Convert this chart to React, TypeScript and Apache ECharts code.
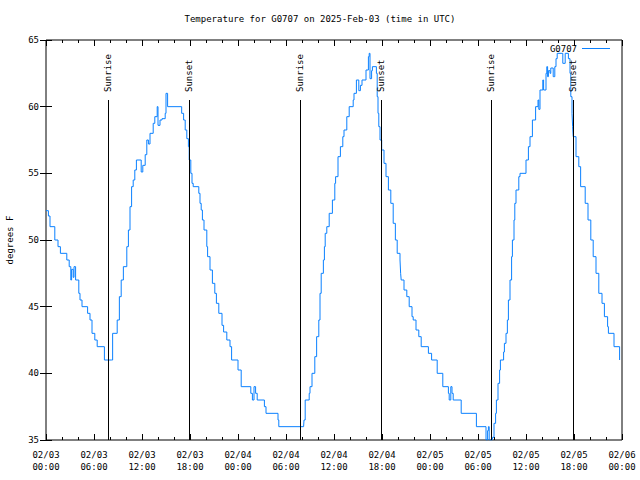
import React, { useEffect, useRef } from "react";
import * as echarts from "echarts";

const chartTitle = "Temperature for G0707 on 2025-Feb-03 (time in UTC)";
const seriesName = "G0707";
const yAxisName = "degrees F";
const dayLabels = ["02/03", "02/04", "02/05", "02/06"];

// hours since 2025-02-03 00:00 UTC
const hours = [
  0.0, 0.3, 0.5, 1.1, 1.5, 1.8, 2.6, 2.9, 3.1, 3.2, 3.4, 3.5, 3.7, 4.1, 4.25, 4.5, 5.2, 5.5, 5.75, 6.1, 6.4, 7.3, 8.2,
  8.33, 8.9, 9.17, 9.4, 9.67, 10.1, 10.3, 10.5, 10.7, 10.9, 11.1, 11.3, 11.9, 12.1, 12.4, 12.6, 12.8, 13.0, 13.4, 13.6,
  13.9, 14.0, 14.25, 14.5, 14.9, 15.0, 15.2, 16.96, 17.2, 17.4, 17.6, 17.8, 17.9, 18.1, 18.25, 18.4, 19.1, 19.25,
  19.4, 19.55, 19.75, 20.1, 20.2, 20.5, 20.8, 21.1, 21.3, 21.6, 22.0, 22.2, 22.6, 23.0, 23.2, 24.0, 24.4, 25.6, 25.8,
  26.0, 26.2, 26.4, 27.3, 27.5, 29.0, 29.1, 32.2,
  32.25, 32.4, 32.9, 33.0, 33.25, 33.6, 33.83, 34.1, 34.25, 34.4, 34.67, 34.8, 34.9, 35.1, 35.4, 35.8, 36.1, 36.2,
  36.5, 36.8, 37.1, 37.25, 37.6, 37.9, 38.4, 38.5, 38.8, 39.1, 39.3, 39.5, 40.0, 40.3, 40.4, 40.5, 40.7, 40.8, 41.3,
  41.4, 41.5, 41.6, 41.75, 41.96, 42.25, 42.5, 42.8, 43.1, 43.4, 43.67, 43.9,
  44.25, 44.33, 44.4, 44.75, 45.1, 45.4, 45.75, 45.9, 46.25, 46.6, 46.9, 47.8, 48.2, 48.9, 49.6, 50.3, 50.4, 50.6,
  50.75, 50.9, 51.9, 53.8, 55.0, 55.2, 55.3, 55.4, 55.8, 56.0, 56.2, 56.3, 56.5, 56.7, 56.8,
  57.2, 57.3, 57.5, 57.67, 57.8, 58.0, 58.2, 58.3, 58.5, 58.6, 58.75, 59.1, 59.25, 60.0, 60.3, 60.5, 60.8, 61.2,
  61.5, 61.6, 61.75, 62.1, 62.2, 62.5, 62.6, 62.7, 62.8, 63.0, 63.1, 63.4, 63.6, 63.75, 63.9, 64.6, 64.9, 65.3,
  65.5, 65.6, 65.75, 65.83, 65.9, 66.25, 66.6, 66.83, 67.4, 67.75, 68.1, 68.4, 68.75, 69.1, 69.5, 69.8, 70.2, 70.3,
  71.0, 71.7, 71.75,
];

const tempsF = [
  52.2, 51.8, 51, 50, 49.5, 49, 48.5, 48, 47, 47.8, 47.2, 48, 47, 46, 45.5, 45, 44.5, 44, 43, 42.5, 42, 41, 41,
  43, 44, 45.75, 47, 48, 49.5, 50.75, 52.5, 54, 54.5, 55.25, 56, 55.1, 55.6, 56.4, 57.5, 57.2, 58, 58.75, 59.25,
  60, 58.6, 59, 59.1, 59.5, 61, 60, 59.5, 59, 58.25, 57.6, 57, 56, 55, 54.25, 54, 53.5, 52.75,
  52.25, 51.5, 50.75, 49.5, 48.75, 47.75, 46.75, 46, 45.25, 44.5, 43.6, 43.1, 42.5, 42, 41, 40.25, 39, 38.5, 38,
  39, 38.5, 38, 37.5, 37, 36.5, 36, 36,
  36.5, 38, 38.5, 39, 40, 41.25, 42.75, 44, 46, 47.5, 48.5, 49.5, 50.5, 51, 52, 53, 54.25, 54.75,
  56.25, 57, 57.75, 58.25, 59.25, 60, 60.5, 61, 62, 61.2, 61.6, 62, 62.75, 63.75, 64, 62.1, 62.7, 63, 62.5,
  60.75, 59.5, 58.5, 57.5, 56.75, 55.75, 54.75, 53.75, 52.75, 51.25, 50, 49,
  48.5, 47.5, 47, 46.25, 45.75, 45, 44.25, 44, 43.25, 42.75, 42, 41.5, 41, 40, 39, 38.5, 38, 39,
  38.5, 38, 37, 36, 35, 35.7, 36, 35, 35.2, 36.25, 37, 38, 39.25, 40.25, 41,
  41.6, 42.25, 43, 44, 45.5, 47, 48.75, 50, 51.5, 52.75, 53.75, 54.75, 55, 56, 57, 57.75, 59, 60,
  60.5, 59.8, 61.25, 62, 61.25, 62.5, 63, 62.25, 62.7, 62.5, 62.9, 62.25, 63, 63.6, 64, 63.25, 64, 63.6,
  62.5, 60.75, 59.5, 58.5, 57.75, 56.25, 55.5, 54, 52.75, 51.5, 50, 48.75, 47.5, 46, 45.25, 44.25, 43.5, 43,
  42, 41, 41,
];

const sunriseHours = [7.78, 31.72, 55.65];
const sunsetHours = [17.92, 41.9, 65.9];

const FONT = "DejaVu Sans Mono";
const LINE_COLOR = "#0a80ff";

export default function App() {
  const ref = useRef<HTMLDivElement>(null);

  useEffect(() => {
    if (!ref.current) return;
    const chart = echarts.init(ref.current, null, { renderer: "svg" });

    const xFormatter = (v: number) => {
      const d = Math.floor(v / 24 + 1e-9);
      const hh = Math.round(v - d * 24);
      return `${dayLabels[d]}\n${String(hh).padStart(2, "0")}:00`;
    };

    const eventLines: any[] = [];
    const addEvent = (h: number, name: string) => {
      eventLines.push([
        { coord: [h, 35], lineStyle: { color: "#000", width: 1, type: "solid" }, label: { show: false } },
        { coord: [h, 60.5] },
      ]);
      eventLines.push([
        {
          coord: [h, 61.1],
          lineStyle: { color: "rgba(0,0,0,0)", width: 1, type: "solid" },
          label: {
            show: true,
            position: "insideStart",
            distance: 0,
            formatter: name,
            color: "#000",
            opacity: 1,
            fontFamily: FONT,
            fontSize: 9,
          },
        },
        { coord: [h, 65] },
      ]);
    };
    sunriseHours.forEach((h) => addEvent(h, "Sunrise"));
    sunsetHours.forEach((h) => addEvent(h, "Sunset"));

    const tickCommon = {
      axisLine: { show: false },
      axisTick: { show: true, inside: true, length: 6, lineStyle: { color: "#000" } },
      splitLine: { show: false },
    };

    chart.setOption({
      animation: false,
      backgroundColor: "#fff",
      title: {
        text: chartTitle,
        left: "center",
        top: 14,
        padding: 0,
        textStyle: { fontFamily: FONT, fontSize: 9, fontWeight: "normal", color: "#000" },
      },
      legend: {
        data: [{ name: seriesName, icon: "rect" }],
        right: 30,
        top: 44,
        padding: 0,
        align: "right",
        itemWidth: 28,
        itemHeight: 1,
        itemStyle: { color: LINE_COLOR },
        textStyle: { fontFamily: FONT, fontSize: 9, color: "#000" },
      },
      grid: {
        left: 46,
        right: 18,
        top: 40,
        bottom: 40,
        show: true,
        borderColor: "#000",
        borderWidth: 1,
        containLabel: false,
        outerBoundsMode: "none",
      },
      xAxis: [
        {
          type: "value",
          min: 0,
          max: 72,
          interval: 6,
          ...tickCommon,
          minorTick: { show: true, splitNumber: 3, length: 3, lineStyle: { color: "#000" } },
          axisLabel: {
            formatter: xFormatter,
            fontFamily: FONT,
            fontSize: 9,
            color: "#000",
            lineHeight: 12,
            margin: 9,
          },
        },
        {
          type: "value",
          position: "top",
          min: 0,
          max: 72,
          interval: 6,
          ...tickCommon,
          minorTick: { show: true, splitNumber: 3, length: 3, lineStyle: { color: "#000" } },
          axisLabel: { show: false },
        },
      ],
      yAxis: [
        {
          type: "value",
          min: 35,
          max: 65,
          interval: 5,
          ...tickCommon,
          name: yAxisName,
          nameLocation: "middle",
          nameGap: 32,
          nameTextStyle: { fontFamily: FONT, fontSize: 9, color: "#000" },
          axisLabel: { fontFamily: FONT, fontSize: 9, color: "#000", margin: 7 },
        },
        {
          type: "value",
          position: "right",
          min: 35,
          max: 65,
          interval: 5,
          ...tickCommon,
          axisLabel: { show: false },
        },
      ],
      series: [
        {
          name: seriesName,
          type: "line",
          xAxisIndex: 0,
          yAxisIndex: 0,
          step: "end",
          symbol: "none",
          showSymbol: false,
          data: hours.map((h, i) => [h, tempsF[i]]),
          lineStyle: { color: LINE_COLOR, width: 1 },
          itemStyle: { color: LINE_COLOR },
          markLine: {
            silent: true,
            symbol: ["none", "none"],
            animation: false,
            data: eventLines,
          },
        },
      ],
    });

    return () => chart.dispose();
  }, []);

  return <div ref={ref} style={{ position: "fixed", left: 0, top: 0, width: 640, height: 480 }} />;
}
